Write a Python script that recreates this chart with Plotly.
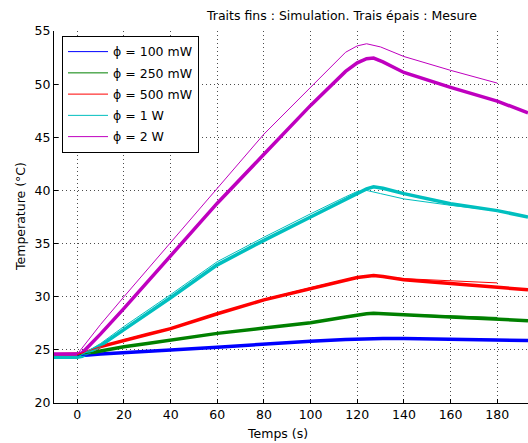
import plotly.graph_objects as go

# ---- data ----
labels = ["ϕ = 100 mW", "ϕ = 250 mW", "ϕ = 500 mW", "ϕ = 1 W", "ϕ = 2 W"]
colors = ["#0000ff", "#008000", "#ff0000", "#00bfbf", "#bf00bf"]

t_meas = [-10, 0, 2, 10, 20, 30, 40, 60, 80, 100, 115, 120, 124, 127, 131, 140, 160, 180, 193.2]
meas_100mW = [24.45, 24.45, 24.47, 24.6, 24.75, 24.86, 24.98, 25.25, 25.55, 25.82, 25.97, 26.02, 26.05, 26.07, 26.07, 26.06, 26.0, 25.96, 25.87]
meas_250mW = [24.5, 24.5, 24.55, 24.9, 25.3, 25.6, 25.9, 26.55, 27.05, 27.56, 28.1, 28.3, 28.4, 28.45, 28.42, 28.3, 28.1, 27.9, 27.75]
meas_500mW = [24.55, 24.55, 24.6, 25.3, 25.9, 26.45, 27.0, 28.4, 29.7, 30.8, 31.55, 31.8, 31.95, 32.0, 31.9, 31.6, 31.25, 30.9, 30.65]
meas_1W = [24.3, 24.3, 24.4, 25.4, 26.9, 28.4, 29.9, 33.0, 35.3, 37.5, 39.2, 39.7, 40.15, 40.35, 40.2, 39.7, 38.75, 38.1, 37.5]
meas_2W = [24.6, 24.6, 24.7, 26.5, 28.9, 31.4, 33.9, 38.8, 43.4, 48.0, 51.2, 52.0, 52.4, 52.45, 52.1, 51.1, 49.7, 48.4, 47.3]

t_sim = [0, 10, 20, 40, 60, 80, 100, 110, 115, 120, 124, 130, 140, 160, 180]
sim_100mW = [24.45, 24.6, 24.75, 24.98, 25.25, 25.55, 25.82, 25.93, 25.98, 26.02, 26.05, 26.07, 26.06, 26.02, 25.98]
sim_250mW = [24.5, 24.9, 25.3, 25.9, 26.55, 27.05, 27.56, 27.9, 28.1, 28.3, 28.4, 28.4, 28.35, 28.2, 28.05]
sim_500mW = [24.55, 25.3, 25.95, 27.05, 28.45, 29.75, 30.85, 31.35, 31.6, 31.85, 31.95, 31.9, 31.7, 31.5, 31.3]
sim_1W = [24.3, 25.6, 27.2, 30.2, 33.3, 35.6, 37.8, 38.9, 39.4, 39.9, 40.0, 39.7, 39.2, 38.6, 38.1]
sim_2W = [24.6, 27.4, 30.0, 35.1, 40.3, 45.3, 49.7, 51.9, 53.0, 53.6, 53.8, 53.5, 52.6, 51.3, 50.1]

meas = [meas_100mW, meas_250mW, meas_500mW, meas_1W, meas_2W]
sims = [sim_100mW, sim_250mW, sim_500mW, sim_1W, sim_2W]

x_ticks = [0, 20, 40, 60, 80, 100, 120, 140, 160, 180]
y_ticks = [20, 25, 30, 35, 40, 45, 50, 55]

FONT = "DejaVu Sans, Verdana, sans-serif"
FS = 12.5

fig = go.Figure()
for lab, col, m in zip(labels, colors, meas):
    fig.add_trace(go.Scatter(x=t_meas, y=m, mode="lines", name=lab, legendgroup=lab,
                             line=dict(color=col, width=3.5), showlegend=False))
for lab, col, s in zip(labels, colors, sims):
    fig.add_trace(go.Scatter(x=t_sim, y=s, mode="lines", name=lab, legendgroup=lab,
                             line=dict(color=col, width=1), showlegend=True))

axis_common = dict(
    showgrid=True, gridcolor="rgba(0,0,0,0.7)", griddash="1px,3px", gridwidth=1,
    zeroline=False, showline=True, linecolor="black", linewidth=1,
    ticks="inside", ticklen=4, tickcolor="black", mirror=False, automargin=False,
    tickfont=dict(family=FONT, size=FS, color="black"),
)

fig.update_layout(
    width=528, height=443,
    margin=dict(l=54, r=0, t=31, b=40),
    paper_bgcolor="white", plot_bgcolor="white",
    font=dict(family=FONT, size=FS, color="black"),
    xaxis=dict(range=[-10, 193.2], tickvals=x_ticks, **axis_common),
    yaxis=dict(range=[20, 55], tickvals=y_ticks, **axis_common),
    legend=dict(x=0.0169, y=0.9866, xanchor="left", yanchor="top",
                bgcolor="white", bordercolor="black", borderwidth=1,
                font=dict(family=FONT, size=FS, color="black"),
                traceorder="grouped", tracegroupgap=2, itemwidth=40),
    annotations=[
        dict(text="Traits fins : Simulation. Trais épais : Mesure", xref="paper", yref="paper",
             x=0.6055, y=1, yshift=16, xanchor="center", yanchor="middle", showarrow=False,
             font=dict(family=FONT, size=FS, color="black")),
        dict(text="Temps (s)", xref="paper", yref="paper", x=(277 - 54) / 474, y=0,
             yshift=-30, xanchor="center", yanchor="middle", showarrow=False,
             font=dict(family=FONT, size=FS, color="black")),
        dict(text="Temperature (°C)", xref="paper", yref="paper", x=0, xshift=-34, y=0.5,
             textangle=-90, xanchor="center", yanchor="middle", showarrow=False,
             font=dict(family=FONT, size=FS, color="black")),
    ],
)

fig.write_html(
    "out.html",
    config={"displayModeBar": False},
    post_script="document.body.style.margin='0';document.body.style.overflow='hidden';",
)
